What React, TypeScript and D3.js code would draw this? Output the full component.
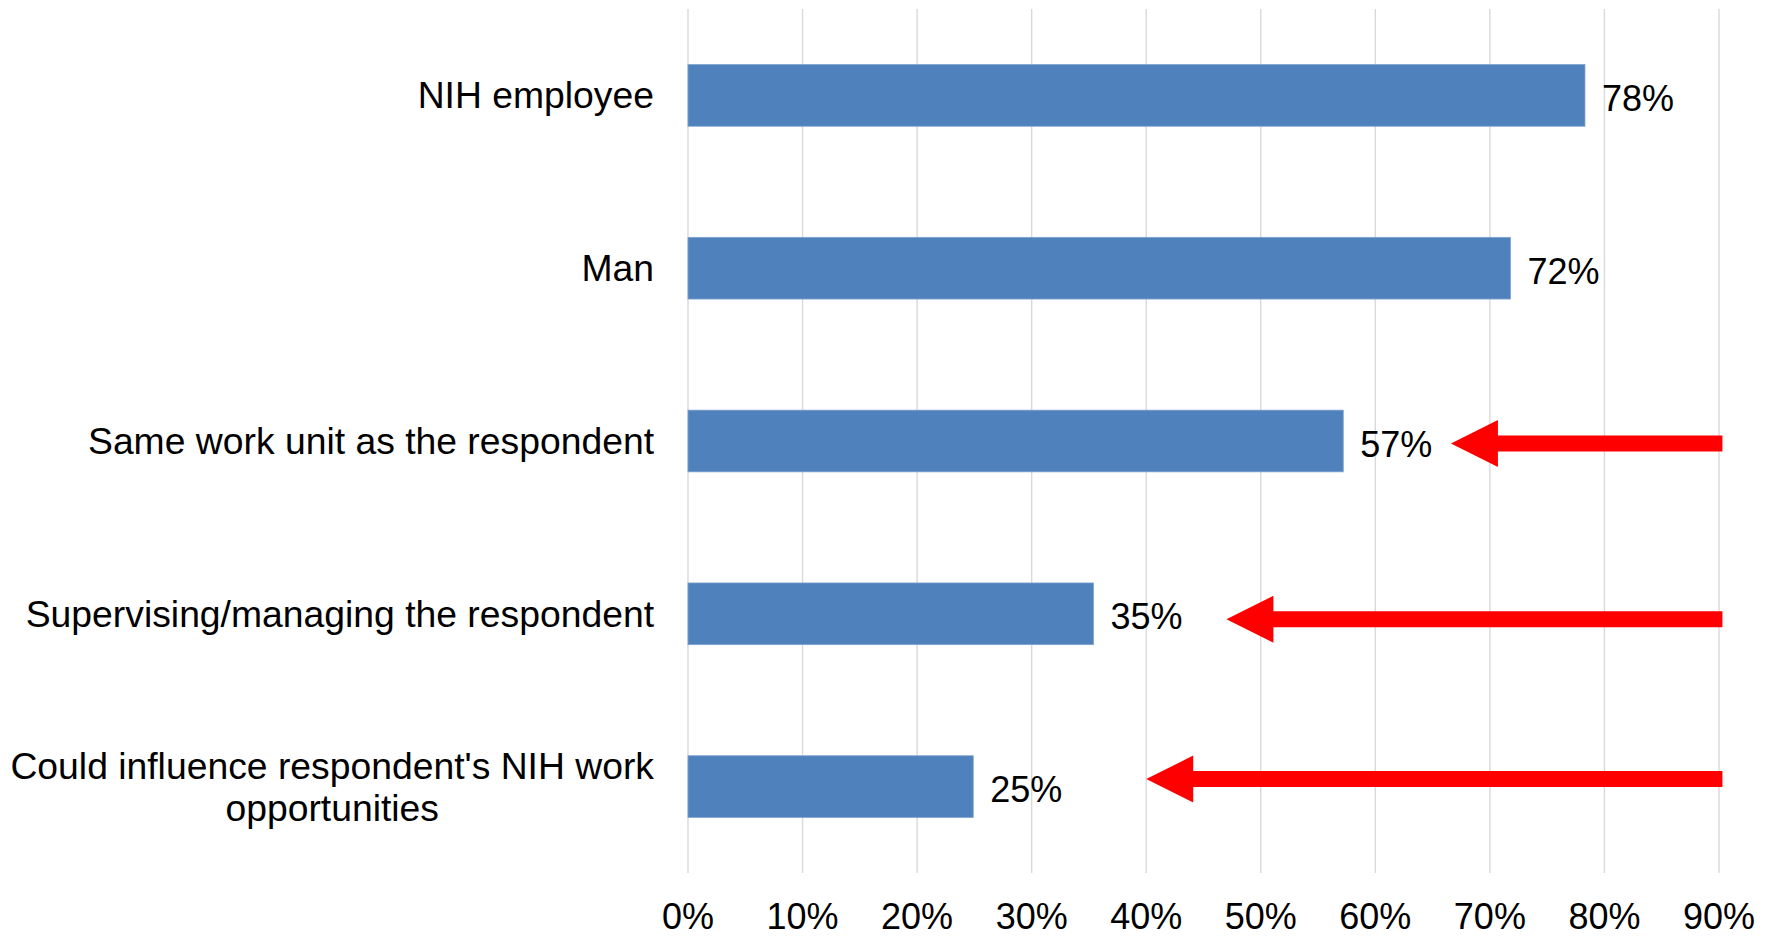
import React from "react";
import * as d3 from "d3";

const categories: string[][] = [
  ["NIH employee"],
  ["Man"],
  ["Same work unit as the respondent"],
  ["Supervising/managing the respondent"],
  ["Could influence respondent's NIH work", "opportunities"],
];
const values: number[] = [78.3, 71.8, 57.2, 35.4, 24.9];
const valueLabels: string[] = ["78%", "72%", "57%", "35%", "25%"];
const xTicks: number[] = [0, 10, 20, 30, 40, 50, 60, 70, 80, 90];
// annotation arrows: row index, tip value, tail value (percent scale)
const arrowRows: number[] = [2, 3, 4];
const arrowTips: number[] = [66.6, 47.0, 40.0];
const arrowTails: number[] = [90.3, 90.3, 90.3];
const arrowOffsets: number[] = [2.5, 5.5, -7.5];

const W = 1773;
const H = 936;
const FONT = "'Liberation Sans', Arial, sans-serif";
const FS = 36;
const CFS = 37.3;

function measure(text: string): number {
  if (typeof document === "undefined") return text.length * CFS * 0.5;
  const c = document.createElement("canvas");
  const ctx = c.getContext("2d");
  if (!ctx) return text.length * CFS * 0.5;
  ctx.font = `${CFS}px ${FONT}`;
  return ctx.measureText(text).width;
}

export default function App() {
  const x = d3.scaleLinear().domain([0, 90]).range([688, 1719]);
  const idx = categories.map((_, i) => String(i));
  const y = d3
    .scaleBand<string>()
    .domain(idx)
    .range([9, 873])
    .paddingInner(0.643)
    .paddingOuter(0.3215);
  const bh = y.bandwidth();
  const labelRight = 654;

  return (
    <svg
      width={W}
      height={H}
      style={{ position: "absolute", left: 0, top: 0, background: "#fff" }}
      fontFamily={FONT}
    >
      <rect x={0} y={0} width={W} height={H} fill="#fff" />
      {xTicks.map((t) => (
        <line
          key={"g" + t}
          x1={x(t)}
          x2={x(t)}
          y1={9}
          y2={873}
          stroke="#d9d9d9"
          strokeWidth={1.4}
        />
      ))}
      {xTicks.map((t) => (
        <text
          key={"t" + t}
          x={x(t)}
          y={928.5}
          textAnchor="middle"
          fontSize={FS}
          fill="#000"
        >
          {t + "%"}
        </text>
      ))}
      {values.map((v, i) => {
        const y0 = y(String(i)) as number;
        return (
          <g key={"b" + i}>
            <rect
              x={x(0)}
              y={y0}
              width={x(v) - x(0)}
              height={bh}
              fill="#4F81BD"
              stroke="#7ea2cf"
              strokeWidth={0.8}
            />
            <text
              x={x(v) + 17}
              y={y0 + bh / 2 + 15.5}
              fontSize={FS}
              fill="#000"
            >
              {valueLabels[i]}
            </text>
          </g>
        );
      })}
      {categories.map((lines, i) => {
        const cy = (y(String(i)) as number) + bh / 2;
        if (lines.length === 1) {
          return (
            <text
              key={"c" + i}
              x={labelRight}
              y={cy + 13}
              textAnchor="end"
              fontSize={CFS}
              fill="#000"
            >
              {lines[0]}
            </text>
          );
        }
        const maxW = Math.max(...lines.map(measure));
        const cx = labelRight - maxW / 2;
        const lh = 42;
        const firstBase = cy - 8;
        return (
          <text
            key={"c" + i}
            textAnchor="middle"
            fontSize={CFS}
            fill="#000"
          >
            {lines.map((l, j) => (
              <tspan key={j} x={cx} y={firstBase + j * lh}>
                {l}
              </tspan>
            ))}
          </text>
        );
      })}
      {arrowRows.map((r, k) => {
        const cy = (y(String(r)) as number) + bh / 2 + arrowOffsets[k];
        const tip = x(arrowTips[k]);
        const tail = x(arrowTails[k]);
        const headLen = 47;
        const headHalf = 23.5;
        const shaftHalf = 8;
        const p = d3.path();
        p.moveTo(tip, cy);
        p.lineTo(tip + headLen, cy - headHalf);
        p.lineTo(tip + headLen, cy - shaftHalf);
        p.lineTo(tail, cy - shaftHalf);
        p.lineTo(tail, cy + shaftHalf);
        p.lineTo(tip + headLen, cy + shaftHalf);
        p.lineTo(tip + headLen, cy + headHalf);
        p.closePath();
        return <path key={"a" + k} d={p.toString()} fill="#FF0000" />;
      })}
    </svg>
  );
}
